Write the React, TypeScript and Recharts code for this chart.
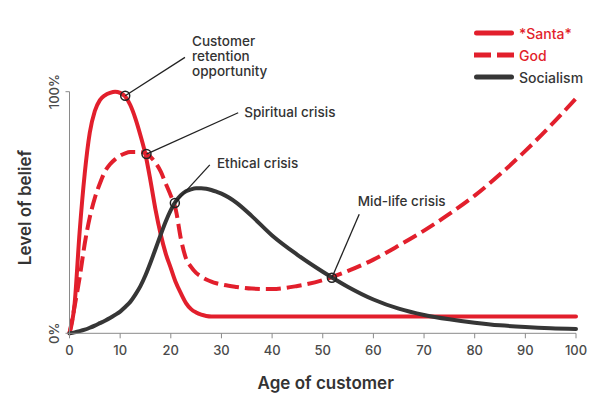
import React from 'react';
import { Legend, Line, LineChart, ReferenceDot, ReferenceLine, XAxis, YAxis } from 'recharts';

// Belief by age of customer — three overlapping curves with crisis callouts

const RED = '#e21f2c';
const DARK = '#363636';
const AXIS = '#8a8a8a';

const ages = [
  0, 1, 2, 3, 4, 5, 6, 7, 8, 9, 10, 11, 12, 13, 14, 15, 16, 17, 18, 19, 20, 21, 22, 23, 24, 25, 26,
  27, 28, 29, 30, 33, 36, 40, 45, 50, 55, 60, 65, 70, 75, 80, 85, 90, 95, 100,
];

const santa = [
  0, 12, 42, 66, 83, 92, 96.5, 98.5, 99.5, 100, 99.5, 98, 94.5, 89, 82, 74, 63, 51, 41, 33, 27, 21,
  16.5, 12.5, 10, 8.6, 7.7, 7.2, 7, 7, 7, 7, 7, 7, 7, 7, 7, 7, 7, 7, 7, 7, 7, 7, 7, 7,
];

const god = [
  0, 11, 23, 37, 48, 56, 62, 67, 70, 72, 73.5, 74.5, 75, 75, 75, 74.5, 73, 70.5, 67, 62, 57, 51, 39,
  31, 27.5, 25, 23.5, 22.3, 21.4, 20.7, 20.2, 19.2, 18.5, 18.3, 19.6, 22, 25.8, 30.5, 36.3, 42.5,
  49.4, 57, 65.8, 75.5, 86, 97.2,
];

const socialism = [
  0, 0.4, 0.9, 1.5, 2.3, 3.2, 4.2, 5.2, 6.3, 7.6, 9, 10.9, 13, 16, 19.5, 24, 29.3, 35, 40.8, 46.3,
  51, 54.7, 57.2, 58.8, 59.6, 60, 60, 59.8, 59.3, 58.6, 57.8, 54, 48.5, 40.5, 32.5, 25.5, 19.2, 14,
  10.2, 7.6, 5.8, 4.4, 3.3, 2.6, 2.1, 1.8,
];

const xTicks = [0, 10, 20, 30, 40, 50, 60, 70, 80, 90, 100];
const yTicks = [0, 100];

const series = [
  { key: 'santa', name: '*Santa*', color: RED, dash: undefined as string | undefined, text: RED },
  { key: 'god', name: 'God', color: RED, dash: '15 6', text: RED },
  { key: 'socialism', name: 'Socialism', color: DARK, dash: undefined as string | undefined, text: DARK },
];

// callouts: circle on the curve, end of the leader line, first text baseline (all in chart units)
const notes = [
  { lines: ['Customer', 'retention', 'opportunity'], at: [11, 98.3], end: [22.8, 114.2], text: [24.2, 118.9] },
  { lines: ['Spiritual crisis'], at: [15.2, 74.2], end: [33.3, 91.3], text: [34.5, 89.6] },
  { lines: ['Ethical crisis'], at: [20.8, 53.9], end: [27.7, 69.7], text: [29.1, 68.5] },
  { lines: ['Mid-life crisis'], at: [51.8, 23], end: [57.2, 49.3], text: [56.9, 52.8] },
];

const data = ages.map((age, i) => ({
  age,
  santa: santa[i],
  god: god[i],
  socialism: socialism[i],
}));

const YTick = (props: any) => {
  const { x, y, payload } = props;
  return (
    <text
      transform={`translate(${x - 10}, ${y}) rotate(-90)`}
      textAnchor="middle"
      dominantBaseline="central"
      fontSize={13}
      fontWeight={500}
      fill="#4a4a4a"
    >
      {payload.value}%
    </text>
  );
};

const LegendBox = () => (
  <div>
    {series.map((s) => (
      <div key={s.key} style={{ display: 'flex', alignItems: 'center', height: 22 }}>
        <svg width={48} height={10}>
          <line
            x1={s.dash ? 4 : 6.5}
            x2={s.dash ? 44 : 41.5}
            y1={5}
            y2={5}
            stroke={s.color}
            strokeWidth={5}
            strokeDasharray={s.dash ? '17 6' : undefined}
            strokeLinecap={s.dash ? 'butt' : 'round'}
          />
        </svg>
        <span style={{ color: s.text, fontSize: 14, fontWeight: 500, marginLeft: 1 }}>{s.name}</span>
      </div>
    ))}
  </div>
);

export default function App() {
  return (
    <div style={{ position: 'absolute', left: 0, top: 0, width: 610, height: 414, background: '#fff', fontFamily: 'Inter, sans-serif' }}>
      <LineChart
        width={610}
        height={414}
        data={data}
        margin={{ top: 91.7, right: 34, bottom: 50.7, left: 19.5 }}
      >
        <XAxis
          dataKey="age"
          type="number"
          domain={[0, 100]}
          ticks={xTicks}
          tickSize={5}
          tickMargin={7}
          height={30}
          stroke={AXIS}
          tick={{ fill: '#4a4a4a', fontSize: 13, fontWeight: 500 }}
          label={{
            content: ({ viewBox }: any) => (
              <text
                x={viewBox.x + viewBox.width / 2 + 3}
                y={viewBox.y + 50}
                textAnchor="middle"
                dominantBaseline="central"
                fontSize={17}
                fontWeight={600}
                fill="#333"
              >
                Age of customer
              </text>
            ),
          }}
        />
        <YAxis
          type="number"
          domain={[0, 100]}
          ticks={yTicks}
          width={50}
          tickSize={4}
          stroke={AXIS}
          tick={<YTick />}
          label={{
            content: ({ viewBox }: any) => (
              <text
                transform={`translate(${viewBox.x + 5.5}, ${viewBox.y + viewBox.height / 2 - 5}) rotate(-90)`}
                textAnchor="middle"
                dominantBaseline="central"
                fontSize={17}
                fontWeight={600}
                fill="#333"
              >
                Level of belief
              </text>
            ),
          }}
        />
        <Legend
          layout="horizontal"
          verticalAlign="middle"
          align="center"
          content={<LegendBox />}
          wrapperStyle={{ top: 22, left: 470, width: 130, height: 70 }}
        />
        {series.map((s) => (
          <Line
            key={s.key}
            type="monotone"
            dataKey={s.key}
            name={s.name}
            stroke={s.color}
            strokeWidth={4}
            strokeDasharray={s.dash}
            strokeLinecap={s.dash ? 'butt' : 'round'}
            dot={false}
            activeDot={false}
            isAnimationActive={false}
          />
        ))}
        {notes.map((n) => (
          <ReferenceLine
            key={`l-${n.lines[0]}`}
            segment={[
              { x: n.at[0], y: n.at[1] },
              { x: n.end[0], y: n.end[1] },
            ]}
            ifOverflow="visible"
            stroke="#222"
            strokeWidth={1.3}
          />
        ))}
        {notes.map((n) => (
          <ReferenceDot
            key={`c-${n.lines[0]}`}
            x={n.at[0]}
            y={n.at[1]}
            r={4.5}
            fill="none"
            stroke="#222"
            strokeWidth={1.5}
            ifOverflow="visible"
          />
        ))}
        {notes.map((n) => (
          <ReferenceDot
            key={`t-${n.lines[0]}`}
            x={n.text[0]}
            y={n.text[1]}
            r={0}
            ifOverflow="visible"
            shape={(p: any) => (
              <g>
                {n.lines.map((line, i) => (
                  <text key={line} x={p.cx} y={p.cy + i * 15} fontSize={13.5} fontWeight={500} fill="#333">
                    {line}
                  </text>
                ))}
              </g>
            )}
          />
        ))}
      </LineChart>
    </div>
  );
}
